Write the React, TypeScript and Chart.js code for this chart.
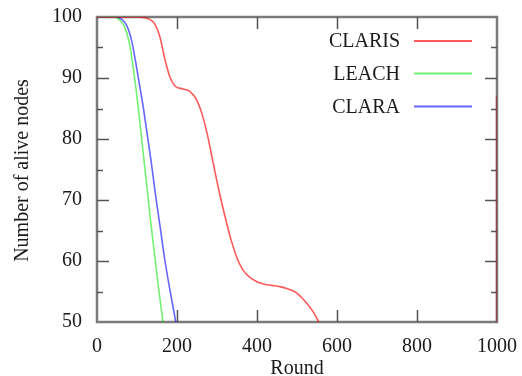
import React, { useEffect, useRef } from "react";
import { Chart, registerables } from "chart.js";

Chart.register(...registerables);

// ---- data ----
const clarisRounds = [0, 60, 100, 118, 132, 144, 157, 170, 182, 195, 215, 232, 249, 262, 275, 290, 304, 320, 335, 350, 365, 382, 400, 418, 437, 457, 478, 496, 510, 524, 540, 553, 565];
const clarisAlive = [100, 100, 100, 99.9, 99.6, 98.9, 96.8, 93, 90.2, 88.7, 88.2, 87.8, 86.4, 84.2, 81, 76.2, 71.8, 67.3, 63.5, 60.5, 58.5, 57.3, 56.6, 56.2, 56, 55.8, 55.4, 54.9, 54.1, 53.1, 51.7, 50.2, 48.5];
const clarisTailRounds = [565, 1000, 1000];
const clarisTailAlive = [48.5, 40, 87];

const leachRounds = [0, 40, 55, 68, 80, 90, 98, 106, 115, 125, 135, 145, 155, 166, 180];
const leachAlive = [100, 100, 99.6, 98.5, 96, 92, 88, 83.5, 78, 72, 66, 60.5, 55, 49.5, 43];

const claraRounds = [0, 45, 62, 75, 87, 97, 106, 115, 125, 135, 146, 158, 170, 183, 197, 210];
const claraAlive = [100, 100, 99.6, 98.5, 96, 92.5, 89, 85.5, 81, 76.5, 71, 65.5, 60, 55, 50, 45];

const seriesNames = ["CLARIS", "LEACH", "CLARA"];
const seriesColors = ["rgba(255,0,0,0.65)", "rgba(0,230,0,0.55)", "rgba(0,0,255,0.6)"];

const xTickValues = [0, 200, 400, 600, 800, 1000];
const yTickValues = [50, 60, 70, 80, 90, 100];
const yMinorTickValues = [55, 65, 75, 85, 95];
const xTitle = "Round";
const yTitle = "Number of alive nodes";

const FONT = "'Liberation Serif', 'Times New Roman', serif";

function pts(xs: number[], ys: number[]) {
  return xs.map((x, i) => ({ x, y: ys[i] }));
}

const framePlugin = {
  id: "gnuplotFrame",
  beforeDatasetsDraw(chart: any) {
    const { ctx, chartArea } = chart;
    const { left, right, top, bottom } = chartArea;
    const xs = chart.scales.x;
    const ys = chart.scales.y;
    ctx.save();
    ctx.strokeStyle = "#7a7a7a";
    ctx.lineWidth = 2.5;
    ctx.strokeRect(left, top, right - left, bottom - top);
    ctx.lineWidth = 1.5;
    ctx.strokeStyle = "#555";
    ctx.beginPath();
    for (const v of xTickValues) {
      if (v === xs.min || v === xs.max) continue;
      const px = Math.round(xs.getPixelForValue(v)) + 0.5;
      ctx.moveTo(px, bottom);
      ctx.lineTo(px, bottom - 12);
      ctx.moveTo(px, top);
      ctx.lineTo(px, top + 12);
    }
    for (const v of yTickValues) {
      if (v === ys.min || v === ys.max) continue;
      const py = Math.round(ys.getPixelForValue(v)) + 0.5;
      ctx.moveTo(left, py);
      ctx.lineTo(left + 12, py);
      ctx.moveTo(right, py);
      ctx.lineTo(right - 12, py);
    }
    for (const v of yMinorTickValues) {
      const py = Math.round(ys.getPixelForValue(v)) + 0.5;
      ctx.moveTo(left, py);
      ctx.lineTo(left + 6, py);
      ctx.moveTo(right, py);
      ctx.lineTo(right - 6, py);
    }
    ctx.stroke();
    ctx.restore();
  },
  afterDraw(chart: any) {
    const { ctx, chartArea } = chart;
    const { left, right } = chartArea;
    ctx.save();
    ctx.fillStyle = "#1a1a1a";
    ctx.font = `20px ${FONT}`;
    // x title
    ctx.textAlign = "center";
    ctx.textBaseline = "alphabetic";
    ctx.fillText(xTitle, (left + right) / 2, 374);
    // y title
    ctx.save();
    ctx.translate(28, (chartArea.top + chartArea.bottom) / 2 + 1);
    ctx.rotate(-Math.PI / 2);
    ctx.textAlign = "center";
    ctx.fillText(yTitle, 0, 0);
    ctx.restore();
    // legend
    const rowsY = [41, 73.5, 106.5];
    seriesNames.forEach((name, i) => {
      const y = rowsY[i];
      ctx.textAlign = "right";
      ctx.textBaseline = "middle";
      ctx.fillStyle = "#1a1a1a";
      ctx.fillText(name, 400, y + 1);
      ctx.strokeStyle = seriesColors[i];
      ctx.lineWidth = 2;
      ctx.beginPath();
      ctx.moveTo(414, y);
      ctx.lineTo(472, y);
      ctx.stroke();
    });
    ctx.restore();
  },
};

export default function App() {
  const ref = useRef<HTMLCanvasElement | null>(null);
  useEffect(() => {
    document.body.style.margin = "0";
    const canvas = ref.current;
    if (!canvas) return;
    const line = (data: any, color: string) => ({
      data,
      borderColor: color,
      backgroundColor: color,
      borderWidth: 1.6,
      pointRadius: 0,
      fill: false,
      cubicInterpolationMode: "monotone" as const,
    });
    const chart = new Chart(canvas, {
      type: "line",
      data: {
        datasets: [
          { label: seriesNames[0], ...line(pts(clarisRounds, clarisAlive), seriesColors[0]) },
          { label: seriesNames[1], ...line(pts(leachRounds, leachAlive), seriesColors[1]) },
          { label: seriesNames[2], ...line(pts(claraRounds, claraAlive), seriesColors[2]) },
          {
            label: seriesNames[0] + " tail",
            data: pts(clarisTailRounds, clarisTailAlive),
            borderColor: "rgba(200,0,0,0.45)",
            borderWidth: 2.5,
            pointRadius: 0,
            tension: 0,
            fill: false,
          },
        ],
      },
      options: {
        animation: false,
        responsive: true,
        maintainAspectRatio: false,
        events: [],
        layout: { padding: { top: 17, right: 25, left: 0, bottom: 0 } },
        plugins: { legend: { display: false }, tooltip: { enabled: false }, title: { display: false } },
        scales: {
          x: {
            type: "linear",
            min: 0,
            max: 1000,
            afterBuildTicks: (s: any) => {
              s.ticks = xTickValues.map((v) => ({ value: v }));
            },
            ticks: {
              font: { family: FONT, size: 20 },
              color: "#1a1a1a",
              padding: 13,
              maxRotation: 0,
              autoSkip: false,
              callback: (v: any) => String(v),
            },
            grid: { display: false, drawTicks: false },
            border: { display: false },
            afterFit: (s: any) => {
              s.height = 54;
              s.paddingLeft = 0;
              s.paddingRight = 0;
            },
          },
          y: {
            type: "linear",
            min: 50,
            max: 100,
            afterBuildTicks: (s: any) => {
              s.ticks = yTickValues.map((v) => ({ value: v }));
            },
            ticks: {
              font: { family: FONT, size: 20 },
              color: "#1a1a1a",
              padding: 15,
              autoSkip: false,
              callback: (v: any) => String(v),
            },
            grid: { display: false, drawTicks: false },
            border: { display: false },
            afterFit: (s: any) => {
              s.width = 97;
              s.paddingTop = 0;
              s.paddingBottom = 0;
            },
          },
        },
      },
      plugins: [framePlugin],
    });
    return () => chart.destroy();
  }, []);
  return (
    <div style={{ width: 522, height: 376, position: "relative" }}>
      <canvas ref={ref} />
    </div>
  );
}
